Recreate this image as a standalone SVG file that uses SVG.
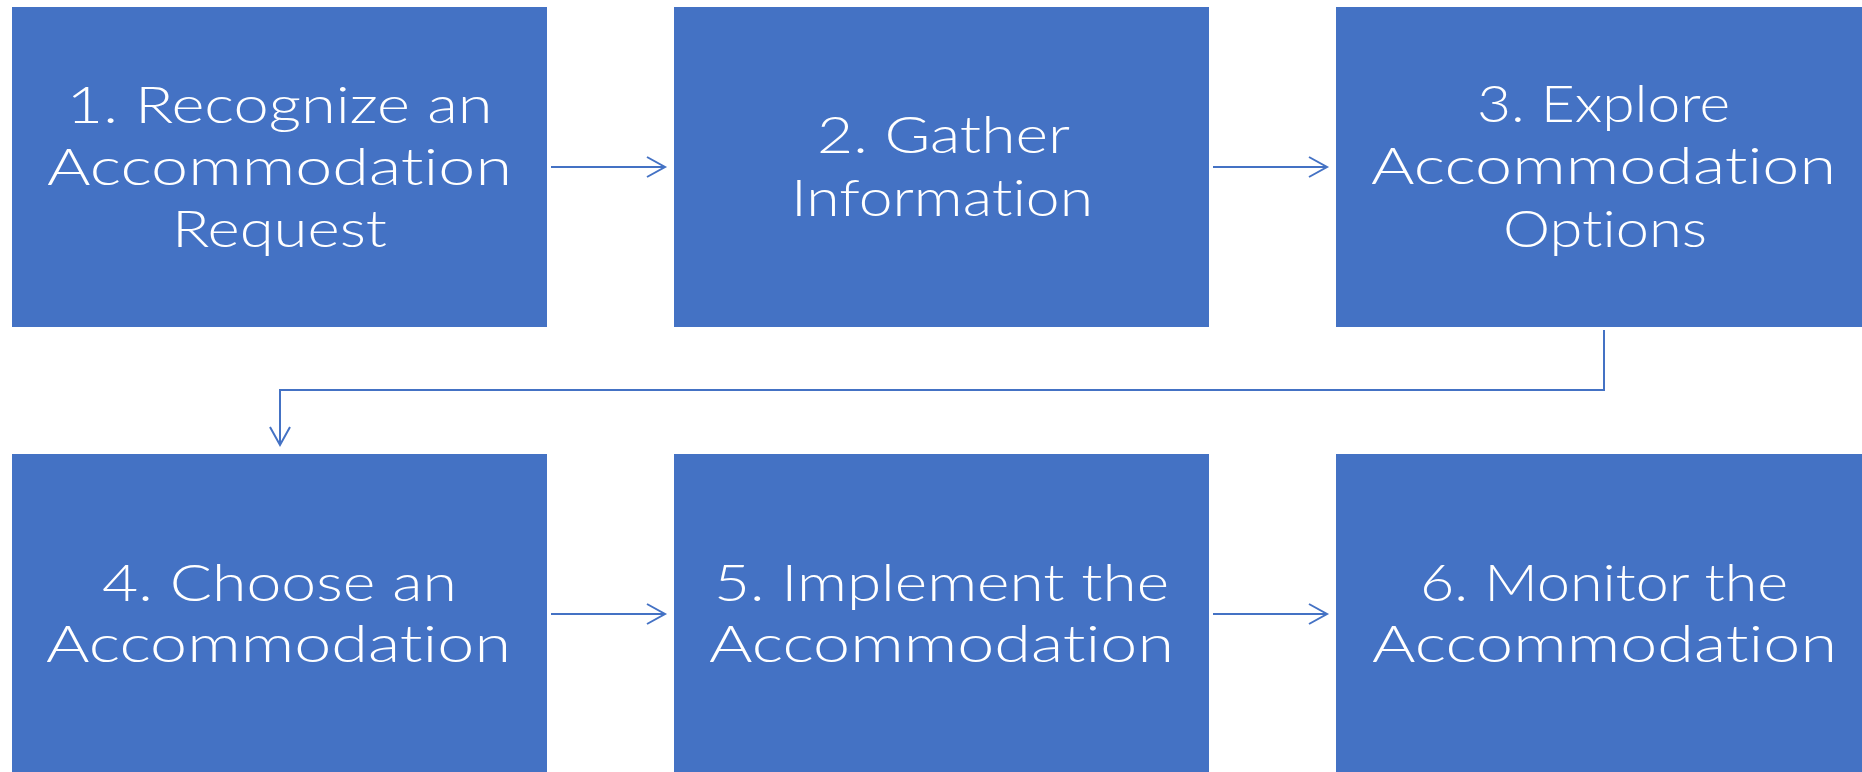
<svg xmlns="http://www.w3.org/2000/svg" width="1862" height="772" viewBox="0 0 1862 772">
  <style>
    .box { fill: #4472C4; }
    .lbl { fill: #FFFFFF; font-family: Lato, "Liberation Sans", sans-serif; font-weight: 300; font-size: 52px; text-anchor: middle; font-variant-ligatures: none; }
    .conn { fill: none; stroke: #4472C4; stroke-width: 2; }
  </style>
  <defs>
    <marker id="chev" markerUnits="userSpaceOnUse" markerWidth="24" markerHeight="24" viewBox="-20 -12 22 24" refX="0" refY="0" orient="auto" overflow="visible">
      <path d="M-18,-10 L0,0 L-18,10" fill="none" stroke="#4472C4" stroke-width="2"/>
    </marker>
  </defs>
  <rect width="1862" height="772" fill="#FFFFFF"/>

  <!-- process steps -->
  <g id="step1">
    <rect class="box" x="12" y="7" width="535" height="320"/>
    <text class="lbl" x="279.5" y="123" textLength="426" lengthAdjust="spacingAndGlyphs">1. Recognize an</text>
    <text class="lbl" x="279.5" y="185" textLength="465" lengthAdjust="spacingAndGlyphs">Accommodation</text>
    <text class="lbl" x="279.5" y="247" textLength="215" lengthAdjust="spacingAndGlyphs">Request</text>
  </g>
  <g id="step2">
    <rect class="box" x="674" y="7" width="535" height="320"/>
    <text class="lbl" x="943.5" y="153" textLength="253" lengthAdjust="spacingAndGlyphs">2. Gather</text>
    <text class="lbl" x="942" y="216" textLength="302" lengthAdjust="spacingAndGlyphs">Information</text>
  </g>
  <g id="step3">
    <rect class="box" x="1336" y="7" width="535" height="320"/>
    <text class="lbl" x="1603.5" y="122" textLength="253" lengthAdjust="spacingAndGlyphs">3. Explore</text>
    <text class="lbl" x="1603.5" y="184" textLength="465" lengthAdjust="spacingAndGlyphs">Accommodation</text>
    <text class="lbl" x="1605" y="247" textLength="204" lengthAdjust="spacingAndGlyphs">Options</text>
  </g>
  <g id="step4">
    <rect class="box" x="12" y="454" width="535" height="320"/>
    <text class="lbl" x="279.5" y="601" textLength="355" lengthAdjust="spacingAndGlyphs">4. Choose an</text>
    <text class="lbl" x="278.5" y="662" textLength="465" lengthAdjust="spacingAndGlyphs">Accommodation</text>
  </g>
  <g id="step5">
    <rect class="box" x="674" y="454" width="535" height="320"/>
    <text class="lbl" x="941.5" y="601" textLength="455" lengthAdjust="spacingAndGlyphs">5. Implement the</text>
    <text class="lbl" x="941.5" y="662" textLength="465" lengthAdjust="spacingAndGlyphs">Accommodation</text>
  </g>
  <g id="step6">
    <rect class="box" x="1336" y="454" width="535" height="320"/>
    <text class="lbl" x="1604" y="601" textLength="368" lengthAdjust="spacingAndGlyphs">6. Monitor the</text>
    <text class="lbl" x="1604.5" y="662" textLength="465" lengthAdjust="spacingAndGlyphs">Accommodation</text>
  </g>

  <!-- connectors -->
  <g id="connectors">
    <path class="conn" d="M551,167 H665" marker-end="url(#chev)"/>
    <path class="conn" d="M1213,167 H1327" marker-end="url(#chev)"/>
    <path class="conn" d="M1604,330 V390 H280 V445" marker-end="url(#chev)"/>
    <path class="conn" d="M551,614 H665" marker-end="url(#chev)"/>
    <path class="conn" d="M1213,614 H1327" marker-end="url(#chev)"/>
  </g>
</svg>
